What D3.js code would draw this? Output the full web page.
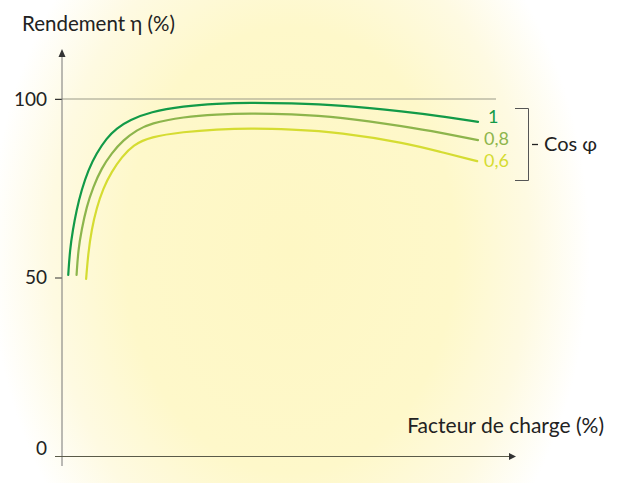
<!DOCTYPE html>
<html><head><meta charset="utf-8">
<script src="https://cdn.jsdelivr.net/npm/d3@7"></script>
<style>
html,body{margin:0;padding:0;}
body{width:620px;height:483px;overflow:hidden;background:#fff;}
svg{display:block;}
text{font-family:Lato,"Open Sans",sans-serif;fill:#222;}
</style></head>
<body>
<svg id="c" width="620" height="483"></svg>
<script>
const yTicks = [0, 50, 100];
const seriesNames = ["1", "0,8", "0,6"];
const seriesColors = ["#129a48", "#8db54c", "#d5dc32"];
const loadGreen  = [1.5, 1.9, 2.6, 3.5, 4.7, 6.3, 8.3, 10.7, 13.1, 16.3, 21.2, 29.2, 37.2, 45.2, 54.8, 66.8, 82.9, 90.9, 100];
const effGreen   = [50.7, 57.7, 63.3, 68.9, 74.5, 80.1, 84.8, 89.0, 91.8, 94.1, 96.4, 98.0, 98.7, 99.0, 98.8, 98.3, 96.4, 95.2, 93.6];
const loadOlive  = [3.5, 3.9, 4.7, 5.9, 7.5, 9.5, 11.9, 14.7, 18.0, 21.2, 29.2, 37.2, 45.2, 54.8, 66.8, 82.9, 90.9, 100];
const effOlive   = [50.7, 57.7, 63.3, 69.8, 75.4, 80.6, 84.8, 88.5, 91.3, 93.2, 95.0, 95.7, 96.0, 95.8, 95.0, 92.2, 90.6, 88.5];
const loadYellow = [5.8, 6.3, 7.1, 8.3, 9.9, 11.9, 14.4, 17.1, 21.2, 29.2, 37.2, 45.2, 54.8, 66.8, 82.9, 90.9, 99.8];
const effYellow  = [49.6, 56.8, 63.3, 69.4, 75.0, 79.6, 83.8, 87.1, 89.4, 90.8, 91.5, 91.8, 91.5, 90.7, 87.6, 85.2, 82.6];

const svg = d3.select("#c");
const defs = svg.append("defs");
const rg = defs.append("radialGradient").attr("id","bg")
  .attr("gradientUnits","userSpaceOnUse").attr("cx",290).attr("cy",250).attr("r",300)
  .attr("gradientTransform","translate(290,250) scale(1,1.35) translate(-290,-250)");
rg.append("stop").attr("offset","0%").attr("stop-color","#fef7c4");
rg.append("stop").attr("offset","55%").attr("stop-color","#fef8ca");
rg.append("stop").attr("offset","80%").attr("stop-color","#fefae2");
rg.append("stop").attr("offset","100%").attr("stop-color","#ffffff");
svg.append("rect").attr("width",620).attr("height",483).attr("fill","url(#bg)");

const x = d3.scaleLinear().domain([0,100]).range([62,478]);
const y = d3.scaleLinear().domain([0,100]).range([456,99]);

// gridline at 100
svg.append("line").attr("x1",55).attr("x2",496).attr("y1",y(100)).attr("y2",y(100))
  .attr("stroke","#9a9a88").attr("stroke-width",1);

// y axis
const yAxis = d3.axisLeft(y).tickValues(yTicks).tickSize(7).tickFormat(d3.format("d"));
const ga = svg.append("g").attr("transform","translate(62,0)").call(yAxis);
ga.select(".domain").remove();
ga.selectAll(".tick line").attr("stroke","#333");
ga.selectAll(".tick text").attr("x",-15).style("font-size","19px").style("font-family","Lato,sans-serif").attr("fill","#222");
ga.selectAll(".tick").filter(d=>d===0).select("text").attr("dy","-0.1em");
svg.append("line").attr("x1",62).attr("x2",62).attr("y1",466).attr("y2",56).attr("stroke","#777").attr("stroke-width",1);
svg.append("path").attr("d","M62,49 L58.5,57 L65.5,57 Z").attr("fill","#333");

// x axis
svg.append("line").attr("x1",55).attr("x2",510).attr("y1",456.5).attr("y2",456.5).attr("stroke","#5a5a48").attr("stroke-width",1);
svg.append("path").attr("d","M516,456.5 L509,453 L509,460 Z").attr("fill","#333");

// curves
const line = d3.line().x(d=>x(d[0])).y(d=>y(d[1])).curve(d3.curveBasis);
const series = [
  d3.zip(loadGreen, effGreen),
  d3.zip(loadOlive, effOlive),
  d3.zip(loadYellow, effYellow)
];
series.forEach((s,i)=>{
  svg.append("path").attr("d",line(s)).attr("fill","none")
    .attr("stroke",seriesColors[i]).attr("stroke-width",2.2).attr("stroke-linecap","round");
});

// series labels
const labY = [123, 145, 167];
const labX = [488, 484, 484];
seriesNames.forEach((n,i)=>{
  svg.append("text").attr("x",labX[i]).attr("y",labY[i]).text(n)
    .style("font-size","18px").style("fill",seriesColors[i]);
});

// bracket
svg.append("path").attr("d","M515,108.5 H528.5 V180.5 H515").attr("fill","none").attr("stroke","#555").attr("stroke-width",1);
svg.append("line").attr("x1",532).attr("x2",538).attr("y1",144.5).attr("y2",144.5).attr("stroke","#222").attr("stroke-width",1.3);
svg.append("text").attr("x",544).attr("y",151).text("Cos φ").style("font-size","20px");

// titles
svg.append("text").attr("x",22).attr("y",31).text("Rendement η (%)").style("font-size","20.5px");
svg.append("text").attr("x",604).attr("y",433).attr("text-anchor","end").text("Facteur de charge (%)").style("font-size","21px");
</script>
</body></html>
